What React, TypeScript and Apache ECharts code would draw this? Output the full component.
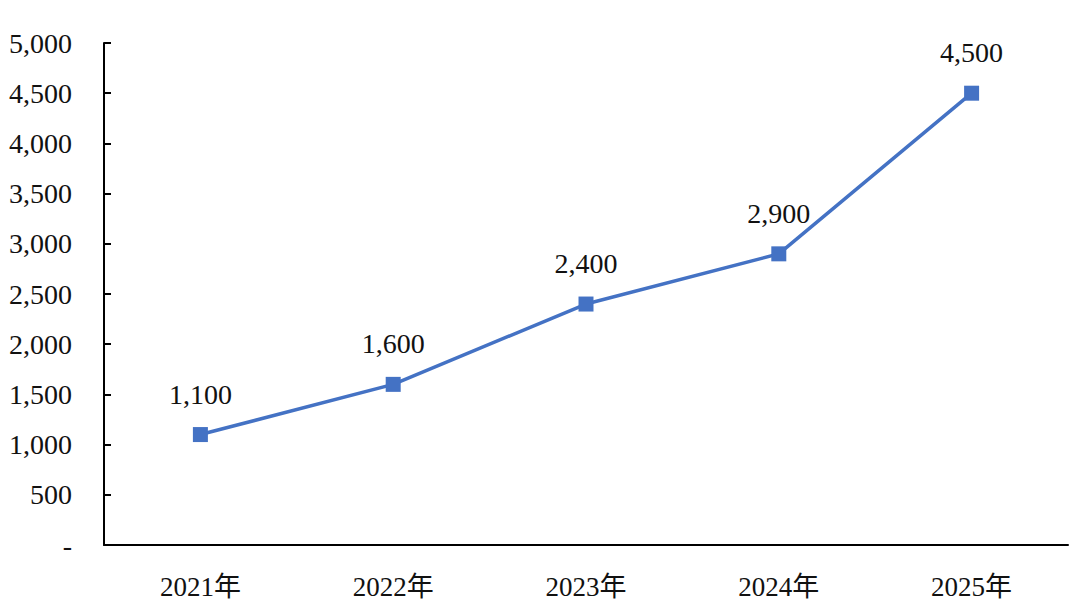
import React, { useEffect, useRef } from "react";
import * as echarts from "echarts";

const categories = ["2021年", "2022年", "2023年", "2024年", "2025年"];
const values = [1100, 1600, 2400, 2900, 4500];
const yMin = 0;
const yMax = 5000;
const yInterval = 500;

const FONT = "'Liberation Serif', 'Times New Roman', 'Noto Sans CJK SC', serif";

export default function App() {
  const ref = useRef<HTMLDivElement>(null);
  useEffect(() => {
    if (!ref.current) return;
    const chart = echarts.init(ref.current, null, { renderer: "svg" });
    const fmt = (v: number) => (v === 0 ? "-" : v.toLocaleString("en-US"));
    chart.setOption({
      animation: false,
      backgroundColor: "#ffffff",
      grid: { left: 104, right: 12, top: 43, bottom: 69, containLabel: false },
      xAxis: {
        type: "category",
        data: categories,
        boundaryGap: true,
        axisLine: { lineStyle: { color: "#000", width: 2 } },
        axisTick: { inside: true, length: 7, lineStyle: { color: "#000", width: 2 } },
        axisLabel: { color: "#111", fontFamily: FONT, fontSize: 27, margin: 28 },
      },
      yAxis: {
        type: "value",
        min: yMin,
        max: yMax,
        interval: yInterval,
        axisLine: { show: true, lineStyle: { color: "#000", width: 2 } },
        axisTick: { show: true, inside: true, length: 7, lineStyle: { color: "#000", width: 2 } },
        splitLine: { show: false },
        axisLabel: { color: "#111", fontFamily: FONT, fontSize: 28, margin: 32, formatter: fmt },
      },
      series: [
        {
          type: "line",
          data: values,
          symbol: "rect",
          symbolSize: 15,
          itemStyle: { color: "#4472C4" },
          lineStyle: { color: "#4472C4", width: 3.5 },
          label: {
            show: true,
            position: "top",
            distance: 19,
            color: "#111",
            fontFamily: FONT,
            fontSize: 28,
            formatter: (p: any) => fmt(p.value),
          },
        },
      ],
    });
    return () => chart.dispose();
  }, []);
  return <div ref={ref} style={{ width: 1080, height: 614, position: "absolute", left: 0, top: 0 }} />;
}
